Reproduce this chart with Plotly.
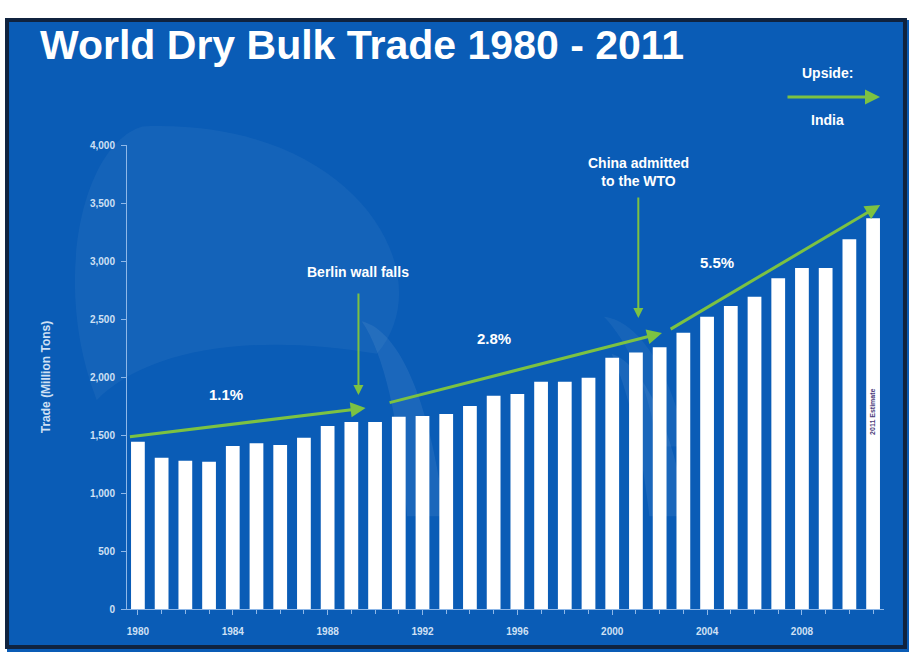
import plotly.graph_objects as go

years = list(range(1980, 2012))
trade = [1442, 1304, 1278, 1270, 1405, 1428, 1414, 1477, 1578, 1612,
         1612, 1658, 1664, 1681, 1750, 1839, 1853, 1959, 1959, 1994,
         2166, 2211, 2256, 2382, 2520, 2612, 2692, 2851, 2940, 2940,
         3187, 3368]
tick_years = [1980, 1984, 1988, 1992, 1996, 2000, 2004, 2008]
y_ticks = [0, 500, 1000, 1500, 2000, 2500, 3000, 3500, 4000]
y_labels = ["0", "500", "1,000", "1,500", "2,000", "2,500", "3,000", "3,500", "4,000"]

# growth trend segments: (x0, y0, x1, y1, label, label_x, label_y)
trends = [
    (1979.6, 1483, 1989.6, 1733, "1.1%", 1983.7, 1845),
    (1990.55, 1776, 2002.1, 2379, "2.8%", 1995.0, 2336),
    (2002.4, 2405, 2011.3, 3483, "5.5%", 2004.4, 2991),
]
# event arrows: (x, y_top, y_bottom, text, text_y)
events = [
    (1989.3, 2733, 1845, "Berlin wall falls", 2905),
    (2001.1, 3560, 2509, "China admitted<br>to the WTO", 3767),
]

BLUE = "#0a5cb6"
GREEN = "#7cc242"
LIGHT = "#cfe0f4"
FONT = "Liberation Sans"

fig = go.Figure()
fig.add_trace(go.Bar(x=years, y=trade, marker_color="white",
                     marker_line_width=0, width=0.58, hoverinfo="x+y"))

ann = []
for x0, y0, x1, y1, lab, lx, ly in trends:
    ann.append(dict(x=x1, y=y1, ax=x0, ay=y0, xref="x", yref="y", axref="x", ayref="y",
                    showarrow=True, arrowhead=2, arrowsize=1.0, arrowwidth=3,
                    arrowcolor=GREEN, text=""))
    ann.append(dict(x=lx, y=ly, xref="x", yref="y", text=lab, showarrow=False,
                    xanchor="center", yanchor="middle",
                    font=dict(family=FONT, size=15, color="white", weight="bold")))
for ex, yt, yb, txt, ty in events:
    ann.append(dict(x=ex, y=yb, ax=ex, ay=yt, xref="x", yref="y", axref="x", ayref="y",
                    showarrow=True, arrowhead=2, arrowsize=1.0, arrowwidth=2,
                    arrowcolor=GREEN, text=""))
    ann.append(dict(x=ex, y=ty, xref="x", yref="y", text=txt, showarrow=False,
                    xanchor="center", yanchor="middle",
                    font=dict(family=FONT, size=14, color="white", weight="bold")))

# 2011 estimate label
ann.append(dict(x=2011, y=1700, xref="x", yref="y", text="2011 Estimate",
                textangle=-90, showarrow=False,
                font=dict(family=FONT, size=7, color="#4a3a7a", weight="bold")))

# upside legend
ann.append(dict(x=0.9947, y=1.1034, xref="paper", yref="paper", ax=-94, ay=0,
                showarrow=True, arrowhead=2, arrowsize=1.0, arrowwidth=3,
                arrowcolor=GREEN, text=""))
ann.append(dict(x=0.926, y=1.155, xref="paper", yref="paper", text="Upside:",
                xanchor="center", yanchor="middle", showarrow=False,
                font=dict(family=FONT, size=14, color="white", weight="bold")))
ann.append(dict(x=0.926, y=1.054, xref="paper", yref="paper", text="India",
                xanchor="center", yanchor="middle", showarrow=False,
                font=dict(family=FONT, size=14, color="white", weight="bold")))

# title
ann.append(dict(x=-0.1176, y=1.2155, xref="paper", yref="paper", text="World Dry Bulk Trade 1980 - 2011",
                xanchor="left", yanchor="middle", showarrow=False,
                font=dict(family=FONT, size=41, color="white", weight="bold")))

shapes = [
    # outer white margins and dark frame (paper coords: plot x 127..884, y 145..609)
    dict(type="rect", xref="paper", yref="paper", x0=-0.2, x1=1.1, y0=1.2694, y1=1.40,
         fillcolor="white", line_width=0, layer="below"),
    dict(type="rect", xref="paper", yref="paper", x0=-0.2, x1=-0.1585, y0=-0.2, y1=1.40,
         fillcolor="white", line_width=0, layer="below"),
    dict(type="rect", xref="paper", yref="paper", x0=-0.1585, x1=1.0277, y0=-0.0819, y1=1.2694,
         fillcolor="rgba(0,0,0,0)", line=dict(color="#10233f", width=4), layer="below"),
    # soft background swooshes
    dict(type="path", xref="paper", yref="paper",
         path="M 0.02 1.04 C -0.06 1.00, -0.10 0.70, -0.04 0.45 C 0.02 0.55, 0.15 0.60, 0.33 0.55 "
              "C 0.42 0.72, 0.30 1.06, 0.02 1.04 Z",
         fillcolor="rgba(255,255,255,0.045)", line_width=0, layer="below"),
    dict(type="path", xref="paper", yref="paper",
         path="M 0.31 0.62 C 0.36 0.60, 0.40 0.45, 0.42 0.20 L 0.37 0.20 C 0.36 0.40, 0.34 0.55, 0.31 0.62 Z",
         fillcolor="rgba(255,255,255,0.07)", line_width=0, layer="below"),
    dict(type="path", xref="paper", yref="paper",
         path="M 0.64 0.55 C 0.68 0.53, 0.72 0.40, 0.74 0.20 L 0.69 0.20 C 0.68 0.35, 0.66 0.48, 0.64 0.55 Z",
         fillcolor="rgba(255,255,255,0.07)", line_width=0, layer="below"),
    dict(type="path", xref="paper", yref="paper",
         path="M 0.63 0.63 C 0.68 0.62, 0.72 0.50, 0.74 0.35 L 0.70 0.35 C 0.69 0.48, 0.66 0.58, 0.63 0.63 Z",
         fillcolor="rgba(255,255,255,0.05)", line_width=0, layer="below"),
]

fig.update_layout(
    width=909, height=652,
    margin=dict(l=127, r=25, t=145, b=43),
    paper_bgcolor=BLUE, plot_bgcolor="rgba(0,0,0,0)",
    showlegend=False, bargap=0.4,
    annotations=ann, shapes=shapes,
    xaxis=dict(range=[1979.54, 2011.46], tickmode="array", tickvals=tick_years,
               ticktext=[str(y) for y in tick_years],
               showgrid=False, zeroline=False, showline=True, linecolor="#8fb8e8", linewidth=1,
               ticks="outside", ticklen=5, tickcolor="#8fb8e8", ticklabelstandoff=8,
               minor=dict(dtick=1, tick0=1980, ticks="outside", ticklen=4, tickcolor="#8fb8e8"),
               tickfont=dict(family=FONT, size=10, color=LIGHT, weight="bold")),
    yaxis=dict(range=[0, 4000], tickmode="array", tickvals=y_ticks, ticktext=y_labels,
               showgrid=False, zeroline=False, showline=True, linecolor="#8fb8e8", linewidth=1,
               ticks="outside", ticklen=5, tickcolor="#8fb8e8", ticklabelstandoff=4,
               tickfont=dict(family=FONT, size=10, color=LIGHT, weight="bold"),
               title=dict(text="Trade (Million Tons)", standoff=36,
                          font=dict(family=FONT, size=12, color=LIGHT, weight="bold"))),
)

fig.write_html("out.html", config={"displayModeBar": False},
               post_script="document.body.style.margin='0';document.body.style.overflow='hidden';")
